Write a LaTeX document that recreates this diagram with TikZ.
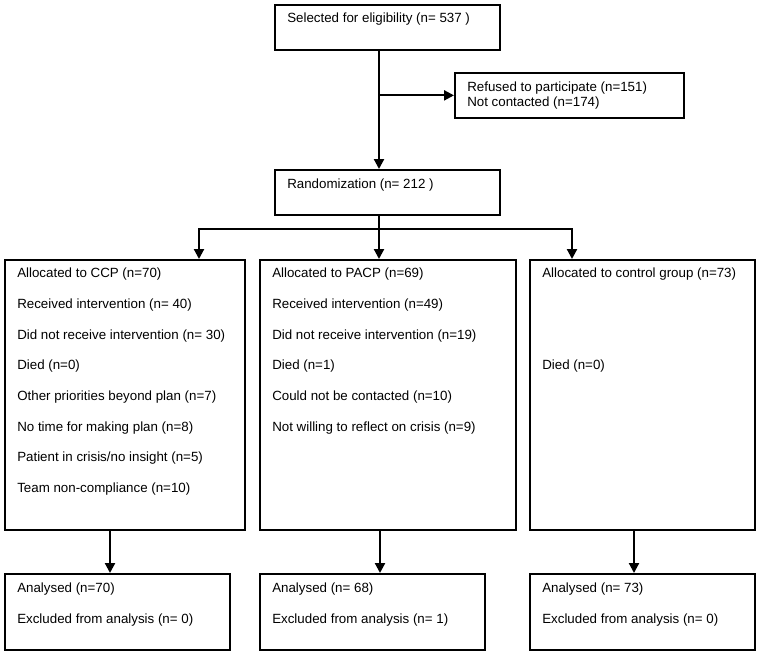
\documentclass[tikz,border=0pt]{standalone}
\usepackage{fontspec}
\setmainfont{Liberation Sans}
\usepackage{tikz}
\usetikzlibrary{arrows.meta}
\usetikzlibrary{positioning}
\usetikzlibrary{calc}
\tikzset{
  flowbox/.style={draw, rectangle, line width=1.3pt, inner sep=0pt, anchor=north west},
  boxtext/.style={anchor=north west, align=left, inner sep=0pt, font=\fontsize{10}{23}\selectfont},
  flowline/.style={line width=1.6pt},
  flowarrow/.style={line width=1.6pt, -{Triangle[length=7.5pt, width=7.5pt]}}
}

\begin{document}
\begin{tikzpicture}[x=0.75pt, y=-0.75pt]
  \useasboundingbox (0,0) rectangle (759,654);
  % top part
  \node[flowbox, minimum width=168.75pt, minimum height=33.75pt] (select) at (274,4) {};
  \node[flowbox, minimum width=171.75pt, minimum height=33.75pt] (refused) at (454,72) {};
  \node[flowbox, minimum width=168.75pt, minimum height=33.75pt] (rand) at (274,169) {};
  \node[boxtext] (selecttext) at ([shift={(13,9)}]select.north west) {Selected for eligibility (n= 537 )};
  \node[boxtext, font=\fontsize{10}{11}\selectfont] (refusedtext) at ([shift={(13,10)}]refused.north west)
    {Refused to participate (n=151)\\Not contacted (n=174)};
  \node[boxtext] (randtext) at ([shift={(13,10)}]rand.north west) {Randomization (n= 212 )};
  % groups
  \node[flowbox, minimum width=180pt, minimum height=202.5pt] (ccp) at (4,259) {};
  \node[flowbox, minimum width=192pt, minimum height=202.5pt] (pacp) at (259,259) {};
  \node[flowbox, minimum width=168.75pt, minimum height=202.5pt] (ctrl) at (529,259) {};
  \node[boxtext] (ccptext) at ([shift={(13,9)}]ccp.north west)
    {Allocated to CCP (n=70)\\Received intervention (n= 40)\\Did not receive intervention (n= 30)\\Died (n=0)\\
     Other priorities beyond plan (n=7)\\No time for making plan (n=8)\\Patient in crisis/no insight (n=5)\\
     Team non-compliance (n=10)};
  \node[boxtext] (pacptext) at ([shift={(13,9)}]pacp.north west)
    {Allocated to PACP (n=69)\\Received intervention (n=49)\\Did not receive intervention (n=19)\\Died (n=1)\\
     Could not be contacted (n=10)\\Not willing to reflect on crisis (n=9)};
  \node[boxtext] (ctrltext) at ([shift={(13,9)}]ctrl.north west)
    {Allocated to control group (n=73)\\ \\ \\Died (n=0)};
  % analysis
  \node[flowbox, minimum width=168.75pt, minimum height=57pt] (ana1) at (4,573) {};
  \node[flowbox, minimum width=168.75pt, minimum height=57pt] (ana2) at (259,573) {};
  \node[flowbox, minimum width=168.75pt, minimum height=57pt] (ana3) at (529,573) {};
  \node[boxtext] (ana1text) at ([shift={(13,10)}]ana1.north west) {Analysed (n=70)\\Excluded from analysis (n= 0)};
  \node[boxtext] (ana2text) at ([shift={(13,10)}]ana2.north west) {Analysed (n= 68)\\Excluded from analysis (n= 1)};
  \node[boxtext] (ana3text) at ([shift={(13,10)}]ana3.north west) {Analysed (n= 73)\\Excluded from analysis (n= 0)};
  % connectors
  \coordinate (spine) at (379,0);
  \coordinate (split) at (379,229);
  \draw[flowarrow] (select.south -| spine) -- (rand.north -| spine);
  \draw[flowarrow] (refused.west -| spine) -- (refused.west);
  \draw[flowline] (rand.south -| spine) -- (split);
  \draw[flowarrow] (split) -| (199,0 |- ccp.north);
  \draw[flowarrow] (split) -- (split |- pacp.north);
  \draw[flowarrow] (split) -| (572,0 |- ctrl.north);
  \draw[flowarrow] (110,0 |- ccp.south) -- (110,0 |- ana1.north);
  \draw[flowarrow] (380,0 |- pacp.south) -- (380,0 |- ana2.north);
  \draw[flowarrow] (634,0 |- ctrl.south) -- (634,0 |- ana3.north);
\end{tikzpicture}
\end{document}
